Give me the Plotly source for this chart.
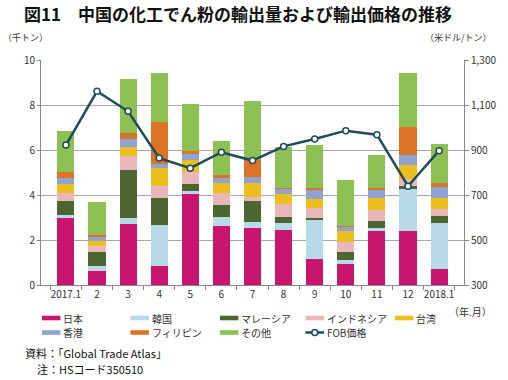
import plotly.graph_objects as go

months = ["2017.1", "2", "3", "4", "5", "6", "7", "8", "9", "10", "11", "12", "2018.1"]

japan     = [2.96, 0.64, 2.71, 0.83, 4.03, 2.62, 2.55, 2.43, 1.15, 0.92, 2.40, 2.40, 0.71]
korea     = [0.15, 0.22, 0.25, 1.84, 0.14, 0.40, 0.25, 0.33, 1.73, 0.19, 0.14, 1.85, 2.06]
malaysia  = [0.64, 0.59, 2.17, 1.21, 0.30, 0.55, 0.92, 0.26, 0.10, 0.36, 0.29, 0.13, 0.30]
indonesia = [0.34, 0.27, 0.59, 0.53, 0.54, 0.53, 0.19, 0.56, 0.44, 0.42, 0.49, 0.34, 0.32]
taiwan    = [0.40, 0.25, 0.40, 0.79, 0.56, 0.44, 0.62, 0.45, 0.42, 0.50, 0.54, 0.63, 0.47]
hongkong  = [0.27, 0.18, 0.37, 0.18, 0.26, 0.23, 0.29, 0.25, 0.41, 0.22, 0.39, 0.45, 0.49]
philippines = [0.25, 0.07, 0.27, 1.85, 0.14, 0.14, 0.74, 0.03, 0.04, 0.02, 0.04, 1.24, 0.19]
others    = [1.85, 1.48, 2.40, 2.19, 2.07, 1.51, 2.63, 1.84, 1.94, 2.02, 1.50, 2.40, 1.73]
fob_price = [922, 1161, 1072, 864, 819, 890, 853, 916, 949, 986, 968, 739, 897]

left_ticks = [0, 2, 4, 6, 8, 10]
right_ticks = [300, 500, 700, 900, 1100, 1300]

series = [
    ("日本", japan, "#C8166E"),
    ("韓国", korea, "#B6DAE7"),
    ("マレーシア", malaysia, "#4C6631"),
    ("インドネシア", indonesia, "#E9B6BA"),
    ("台湾", taiwan, "#ECBE1E"),
    ("香港", hongkong, "#8FA2D0"),
    ("フィリピン", philippines, "#DD7327"),
    ("その他", others, "#8DC153"),
]

FONT = "Noto Sans CJK JP, Noto Sans, sans-serif"
LINE_COLOR = "#1E4C5B"

fig = go.Figure()
for name, vals, col in series:
    fig.add_trace(go.Bar(x=months, y=vals, name=name, marker=dict(color=col, line=dict(width=0)),
                         showlegend=False))

fig.add_trace(go.Scatter(x=months, y=fob_price, yaxis="y2", mode="lines+markers",
                         line=dict(color=LINE_COLOR, width=2.5),
                         marker=dict(symbol="circle", size=6, color="white",
                                     line=dict(color=LINE_COLOR, width=1.5)),
                         showlegend=False, name="FOB価格"))

def px_x(p):
    return (p - 41) / 435.0

def px_y(p):
    return (285 - p) / 225.0

annotations = [
    dict(text="<b>図11　中国の化工でん粉の輸出量および輸出価格の推移</b>", x=px_x(21), y=px_y(13),
         xanchor="left", yanchor="middle", font=dict(size=17, color="#111")),
    dict(text="（千トン）", x=px_x(0), y=px_y(37), xanchor="left", yanchor="middle",
         font=dict(size=9, color="#333")),
    dict(text="（米ドル/トン）", x=px_x(507), y=px_y(37), xanchor="right", yanchor="middle",
         font=dict(size=9, color="#333")),
    dict(text="（年.月）", x=px_x(507), y=px_y(311), xanchor="right", yanchor="middle",
         font=dict(size=10, color="#333")),
    dict(text="資料：「Global Trade Atlas」", x=px_x(22), y=px_y(353), xanchor="left", yanchor="middle",
         font=dict(size=11, color="#111")),
    dict(text="注：HSコード350510", x=px_x(35), y=px_y(369), xanchor="left", yanchor="middle",
         font=dict(size=11, color="#111")),
]

shapes = []
# manual legend
col_x = [42, 133, 225, 313, 405]
row_y = [318, 332.5]
legend_items = [(s[0], s[2]) for s in series] + [("FOB価格", None)]
for i, (name, col) in enumerate(legend_items):
    cx = col_x[i % 5]
    cy = row_y[i // 5]
    if col is not None:
        shapes.append(dict(type="rect", xref="paper", yref="paper",
                           x0=px_x(cx), x1=px_x(cx + 19), y0=px_y(cy - 2.3), y1=px_y(cy + 2.3),
                           fillcolor=col, line=dict(width=0)))
    else:
        shapes.append(dict(type="line", xref="paper", yref="paper",
                           x0=px_x(cx), x1=px_x(cx + 19), y0=px_y(cy), y1=px_y(cy),
                           line=dict(color=LINE_COLOR, width=2.5)))
        shapes.append(dict(type="circle", xref="paper", yref="paper",
                           x0=px_x(cx + 6.5), x1=px_x(cx + 12.5), y0=px_y(cy - 3), y1=px_y(cy + 3),
                           fillcolor="white", line=dict(color=LINE_COLOR, width=1.5)))
    annotations.append(dict(text=name, x=px_x(cx + 20), y=px_y(cy), xanchor="left", yanchor="middle",
                            font=dict(size=10, color="#333")))

for a in annotations:
    a.update(xref="paper", yref="paper", showarrow=False)

fig.update_layout(
    width=508, height=380,
    margin=dict(l=41, r=32, t=60, b=95),
    paper_bgcolor="white", plot_bgcolor="white",
    barmode="stack", bargap=0.45,
    font=dict(family=FONT, size=10, color="#333"),
    showlegend=False,
    xaxis=dict(type="category", showline=True, linecolor="#888", linewidth=1,
               ticks="outside", tickson="boundaries", ticklen=4, tickcolor="#888",
               tickangle=0, tickfont=dict(size=10, color="#333"), showgrid=False),
    yaxis=dict(range=[0, 10], tickvals=left_ticks, showline=True, linecolor="#888", linewidth=1,
               ticks="outside", ticklen=3, tickcolor="#888",
               gridcolor="#A8A8A8", gridwidth=1, zeroline=False,
               tickfont=dict(size=10, color="#333")),
    yaxis2=dict(range=[300, 1300], tickvals=right_ticks, overlaying="y", side="right",
                showline=True, linecolor="#888", linewidth=1, ticks="outside", ticklen=4,
                tickcolor="#888", showgrid=False, zeroline=False, tickformat=",",
                tickfont=dict(size=10, color="#333")),
    annotations=annotations,
    shapes=shapes,
)

fig.write_html("out.html", config={"displayModeBar": False},
               post_script="document.body.style.margin='0';document.body.style.overflow='hidden';")
